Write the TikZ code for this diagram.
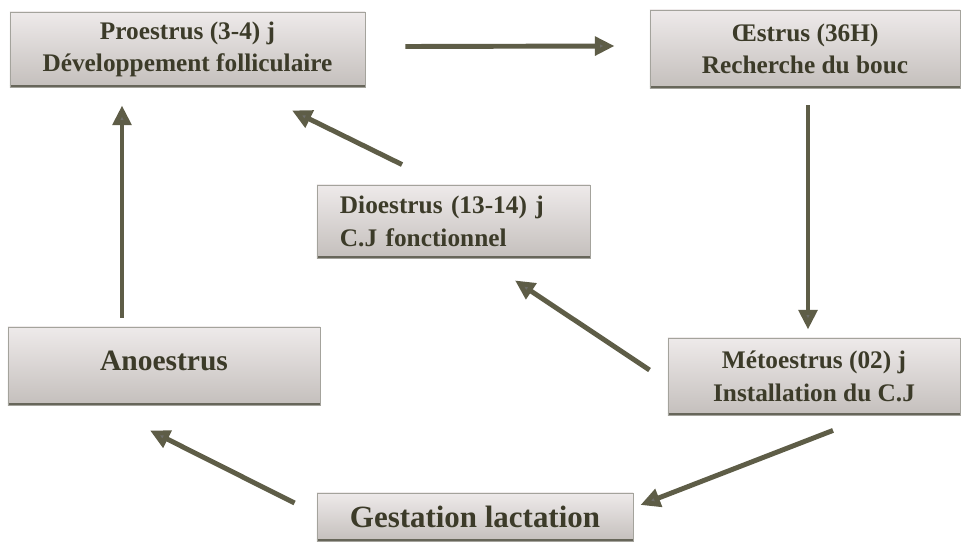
\documentclass[tikz,border=0pt]{standalone}
\usepackage{fontspec}
\setmainfont{Liberation Serif}
\usetikzlibrary{arrows.meta, calc}
\definecolor{boxlight}{HTML}{EEEAEA}
\definecolor{boxdark}{HTML}{C4BFBC}
\definecolor{boxedge}{HTML}{67665A}
\definecolor{olivetxt}{HTML}{3C3B29}
\definecolor{olivearrow}{HTML}{5E5D47}
\definecolor{tipgray}{HTML}{6E6E6A}

\tikzset{
  phase/.style={inner sep=0pt, top color=boxlight, bottom color=boxdark,
    draw=boxedge!60, line width=0.6pt, text=olivetxt, align=center,
    font=\bfseries\fontsize{18}{23}\selectfont,
    path picture={\draw[boxedge, line width=2.5pt]
      (path picture bounding box.south west) -- (path picture bounding box.south east);}},
  flow/.style={olivearrow, line width=3.5pt,
    -{Triangle[length=14pt, width=13pt, fill=tipgray]}}
}

\begin{document}
\begin{tikzpicture}[x=0.025cm, y=-0.025cm]

% Background
\useasboundingbox (0,0) rectangle (961,545);
\fill[white] (0,0) rectangle (961,545);

% Phases
\node[phase, minimum width=8.875cm, minimum height=1.875cm] (pro) at (187.5,49.5)
  {Proestrus (3-4) j\\Développement folliculaire};
\node[phase, minimum width=7.75cm, minimum height=1.95cm] (oes) at (805,49)
  {Œstrus (36H)\\Recherche du bouc};
\node[phase, align=left, text width=5.675cm, inner xsep=0.575cm,
  minimum height=1.825cm] (dio) at (453.5,221.5)
  {Dioestrus (13-14) j\\C.J fonctionnel};
\node[phase, minimum width=7.8cm, minimum height=1.95cm,
  font=\bfseries\fontsize{21}{25}\selectfont] (ano) at (164,366)
  {\raisebox{8pt}{Anoestrus}};
\node[phase, minimum width=7.3cm, minimum height=1.925cm] (meto) at (814,376.5)
  {Métoestrus (02) j\\Installation du C.J};
\node[phase, minimum width=7.9cm, minimum height=1.2cm,
  font=\bfseries\fontsize{22}{26}\selectfont] (ges) at (475,517)
  {Gestation lactation};

% Cycle
\draw[flow] ($(pro.east)+(40,-3)$) -- ($(oes.west)+(-35,-3)$);
\draw[flow] ($(oes.south)+(3,17)$) -- ($(meto.north)+(-6,-8)$);
\draw[flow] ($(meto.west)+(-18,-6.5)$) -- ($(dio.south)+(61.5,22)$);
\draw[flow] ($(dio.north)+(-51.5,-20)$) -- ($(pro.south)+(104.5,23)$);

% Gestation branch
\draw[flow] ($(meto.south)+(19,15)$) -- ($(ges.east)+(7,-12)$);
\draw[flow] ($(ges.west)+(-22,-14)$) -- ($(ano.south)+(-14,25)$);
\draw[flow] ($(ano.north)+(-42,-9)$) -- ($(pro.south)+(-65.5,18)$);

\end{tikzpicture}
\end{document}
